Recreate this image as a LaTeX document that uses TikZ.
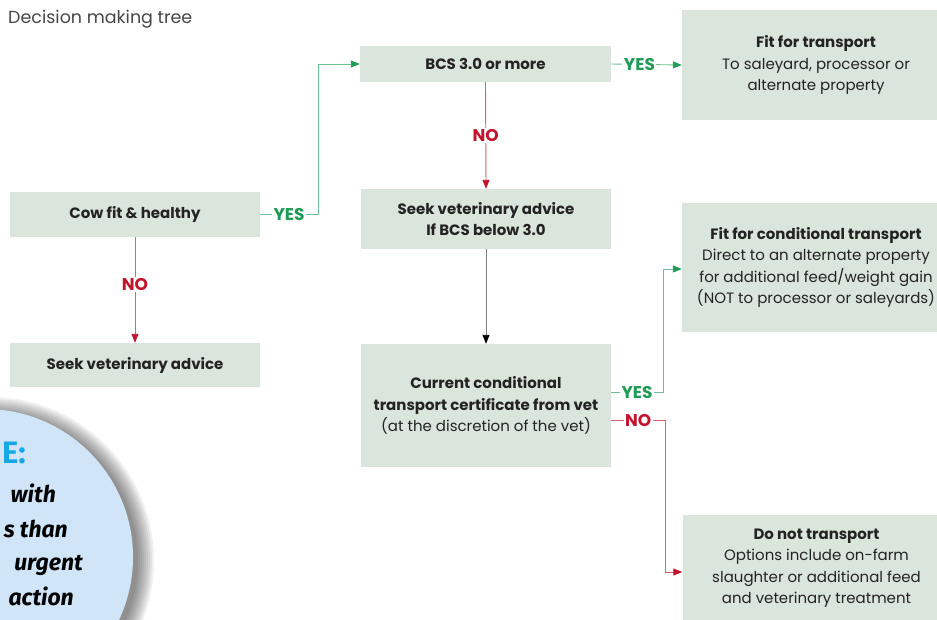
\documentclass[tikz,border=0pt]{standalone}
\usepackage{fontspec}
\setmainfont{Poppins}
\newfontfamily\notefont{Fira Sans}
\usetikzlibrary{calc,arrows.meta}
\definecolor{boxfill}{RGB}{218,230,219}
\definecolor{txt}{RGB}{35,35,35}
\definecolor{ttl}{RGB}{70,70,70}
\definecolor{gline}{RGB}{110,190,150}
\definecolor{gtxt}{RGB}{30,155,85}
\definecolor{rline}{RGB}{215,100,110}
\definecolor{rtxt}{RGB}{195,20,45}
\definecolor{noteblue}{RGB}{208,230,248}
\definecolor{notecyan}{RGB}{25,168,230}
\begin{document}
\begin{tikzpicture}[x=1pt,y=-1pt,
  box/.style={fill=boxfill, draw=none, align=center, text=txt, inner sep=0pt,
    font=\fontsize{15}{21.5}\selectfont},
  greenline/.style={draw=gline, line width=0.9pt, -{Triangle[length=9pt,width=7pt,fill=gtxt,color=gtxt]}},
  redline/.style={draw=rline, line width=0.9pt, -{Triangle[length=9pt,width=7pt,fill=rtxt,color=rtxt]}},
  greyline/.style={draw=gray, line width=0.9pt, -{Triangle[length=9pt,width=7pt,fill=black,color=black]}},
  yeslab/.style={fill=white, text=gtxt, inner sep=1.5pt, font=\fontsize{17}{17}\selectfont\bfseries},
  nolab/.style={fill=white, text=rtxt, inner sep=1.5pt, font=\fontsize{17}{17}\selectfont\bfseries},
  notetext/.style={anchor=base east, inner sep=0pt, text=black, font=\notefont\fontsize{23}{23}\selectfont\bfseries\itshape}
]
\useasboundingbox (0,0) rectangle (937,619);
\clip (0,0) rectangle (937,619);
\fill[white] (0,0) rectangle (937,619);

% title
\node[anchor=base west, inner sep=0pt, text=ttl, font=\fontsize{17.5}{17.5}\selectfont] (title) at (8,23) {Decision making tree};

% boxes
\node[box, minimum width=250, minimum height=45] (A) at (135,214.5) {\bfseries Cow fit \& healthy};
\node[box, minimum width=250, minimum height=44] (B) at (135,365) {\bfseries Seek veterinary advice};
\node[box, minimum width=251, minimum height=36] (C) at (485.5,64) {\bfseries BCS 3.0 or more};
\node[box, minimum width=250, minimum height=60] (D) at (486,219) {\bfseries Seek veterinary advice\\\bfseries If BCS below 3.0};
\node[box, minimum width=250, minimum height=123] (E) at (486,405.5) {\bfseries Current conditional\\\bfseries transport certificate from vet\\(at the discretion of the vet)};
\node[box, minimum width=268, minimum height=110] (F) at (816,65) {\bfseries Fit for transport\\To saleyard, processor or\\alternate property};
\node[box, minimum width=268, minimum height=129] (G) at (816,267.5) {\bfseries Fit for conditional transport\\Direct to an alternate property\\for additional feed/weight gain\\(NOT to processor or saleyards)};
\node[box, minimum width=268, minimum height=106] (H) at (816.5,568) {\bfseries Do not transport\\Options include on-farm\\slaughter or additional feed\\and veterinary treatment};

% connectors
\draw[greenline] (A.east) -- node[yeslab] {YES} (318,214.5) |- (C.west);
\draw[greenline] (C.east) -- node[yeslab, pos=0.4] {YES} (F.west);
\draw[redline] (C.south) -- node[nolab] {NO} (D.north);
\draw[redline] (A.south) -- node[nolab, pos=0.45] {NO} (B.north);
\draw[greyline] (D.south) -- (E.north);
\draw[greenline] ($(E.east)+(0,-13.5)$) -- node[yeslab, pos=0.5] {YES} (663,392) |- ($(G.west)+(0,1.5)$);
\draw[redline] ($(E.east)+(0,14.5)$) -- node[nolab, pos=0.5] {NO} (665,420) |- ($(H.west)+(0,4)$);

% note circle with shadow
\foreach \k in {16,14,...,0} {
  \fill[black, opacity=0.06] (-10,561) circle ({148+\k});
}
\fill[noteblue] (-15,557) circle (148);
\node[anchor=base east, inner sep=0pt, text=notecyan, font=\notefont\fontsize{31}{31}\selectfont\bfseries] (n0) at (26,463) {E:};
\node[notetext] (n1) at (56,502) {with};
\node[notetext] (n2) at (68,537) {s than};
\node[notetext] (n3) at (83,570) {urgent};
\node[notetext] (n4) at (74,605) {action};
\end{tikzpicture}
\end{document}
